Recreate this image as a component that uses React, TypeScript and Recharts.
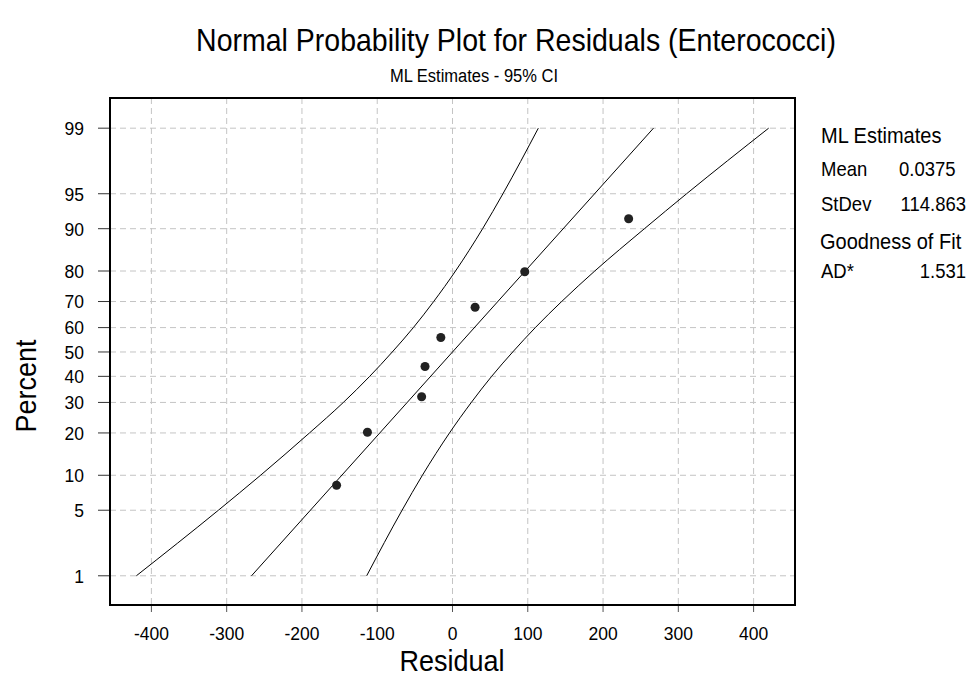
import { ScatterChart, Scatter, XAxis, YAxis, CartesianGrid } from 'recharts';

// tick labels
const residualTicks = [-400, -300, -200, -100, 0, 100, 200, 300, 400];
const percentTicks = [1, 5, 10, 20, 30, 40, 50, 60, 70, 80, 90, 95, 99];

// observed residuals and their plotting percent
const residuals = [-154, -113, -41, -36.5, -15.5, 30, 96, 234];
const pointPercents = [8.3, 20.2, 32.1, 44.0, 56.0, 67.9, 79.8, 91.7];

// fitted line endpoints
const fitResiduals = [-267, 267];
const fitPercents = [1, 99];

// 95% CI curves
const bandPercents = [1, 5, 10, 20, 30, 40, 50, 60, 70, 80, 90, 95, 99];
const upperBandResiduals = [-420, -311, -255, -190, -145, -110, -80, -52, -25, 4, 40, 67, 114];
const lowerBandResiduals = [-114, -67, -40, -4, 25, 52, 80, 110, 145, 189, 255, 311, 420];

// inverse normal cdf (Acklam) -> probability scale for the y axis
function probit(pct: number) {
  const p = pct / 100;
  const a = [-39.6968302866538, 220.946098424521, -275.928510446969, 138.357751867269, -30.6647980661472, 2.50662827745924];
  const b = [-54.4760987982241, 161.585836858041, -155.698979859887, 66.8013118877197, -13.2806815528857];
  const c = [-0.00778489400243029, -0.322396458041136, -2.40075827716184, -2.54973253934373, 4.37466414146497, 2.93816398269878];
  const d = [0.00778469570904146, 0.32246712907004, 2.445134137143, 3.75440866190742];
  const pl = 0.02425;
  if (p < pl) {
    const q = Math.sqrt(-2 * Math.log(p));
    return (((((c[0] * q + c[1]) * q + c[2]) * q + c[3]) * q + c[4]) * q + c[5]) / ((((d[0] * q + d[1]) * q + d[2]) * q + d[3]) * q + 1);
  }
  if (p > 1 - pl) {
    const q = Math.sqrt(-2 * Math.log(1 - p));
    return -(((((c[0] * q + c[1]) * q + c[2]) * q + c[3]) * q + c[4]) * q + c[5]) / ((((d[0] * q + d[1]) * q + d[2]) * q + d[3]) * q + 1);
  }
  const q = p - 0.5;
  const r = q * q;
  return (((((a[0] * r + a[1]) * r + a[2]) * r + a[3]) * r + a[4]) * r + a[5]) * q / (((((b[0] * r + b[1]) * r + b[2]) * r + b[3]) * r + b[4]) * r + 1);
}

const toRows = (xs: number[], ps: number[]) => xs.map((x, i) => ({ x, z: probit(ps[i]), pct: ps[i] }));

const points = toRows(residuals, pointPercents);
const fitLine = toRows(fitResiduals, fitPercents);
const upperBand = toRows(upperBandResiduals, bandPercents);
const lowerBand = toRows(lowerBandResiduals, bandPercents);
const yTicks = percentTicks.map(probit);

const font = '"Liberation Sans", Arial, sans-serif';
const tickFont = 17.5;

const noDot = () => <g />;

// the original glyphs are a little taller than wide
function XTick(props: any) {
  const { x, y, payload } = props;
  return (
    <g transform={`translate(${x},${y}) scale(1,1.1)`}>
      <text x={0} y={0} dy="0.71em" textAnchor="middle" fill="#000" fontSize={tickFont} fontFamily={font}>
        {payload.value}
      </text>
    </g>
  );
}

function YTick(props: any) {
  const { x, y, payload } = props;
  const i = yTicks.findIndex(t => Math.abs(t - payload.value) < 1e-6);
  return (
    <g transform={`translate(${x},${y}) scale(1,1.1)`}>
      <text x={0} y={0} dy="0.355em" textAnchor="end" fill="#000" fontSize={tickFont} fontFamily={font}>
        {i >= 0 ? percentTicks[i] : ''}
      </text>
    </g>
  );
}

const txt = (extra: any) => ({ position: 'absolute' as const, color: '#000', whiteSpace: 'nowrap' as const, lineHeight: 1, ...extra });

export default function App() {
  return (
    <div style={{ position: 'absolute', left: 0, top: 0, width: 971, height: 679, background: '#fff', fontFamily: font }}>
      <div style={txt({ left: 516, top: 40, fontSize: 28.5, transform: 'translate(-50%, -50%) scaleY(1.1)' })}>
        Normal Probability Plot for Residuals (Enterococci)
      </div>
      <div style={txt({ left: 474, top: 76, fontSize: 16.5, transform: 'translate(-50%, -50%) scaleY(1.1)' })}>
        ML Estimates - 95% CI
      </div>

      <ScatterChart width={971} height={679} margin={{ top: 98, right: 176, bottom: 0, left: 0 }}>
        <CartesianGrid stroke="#c4c4c4" strokeDasharray="6 4" />
        <XAxis
          type="number"
          dataKey="x"
          domain={[-455, 455]}
          ticks={residualTicks}
          height={74}
          axisLine={false}
          tickSize={7}
          tickMargin={14}
          tickLine={{ stroke: '#555' }}
          tick={<XTick />}
        />
        <YAxis
          type="number"
          dataKey="z"
          domain={[-2.63, 2.64]}
          ticks={yTicks}
          width={110}
          axisLine={false}
          tickSize={12}
          tickMargin={14}
          tickLine={{ stroke: '#333' }}
          tick={<YTick />}
        />
        <Scatter data={upperBand} line={{ stroke: '#000', strokeWidth: 1 }} lineJointType="monotoneX" shape={noDot} legendType="none" isAnimationActive={false} />
        <Scatter data={lowerBand} line={{ stroke: '#000', strokeWidth: 1 }} lineJointType="monotoneX" shape={noDot} legendType="none" isAnimationActive={false} />
        <Scatter data={fitLine} line={{ stroke: '#000', strokeWidth: 1 }} shape={noDot} legendType="none" isAnimationActive={false} />
        <Scatter data={points} fill="#222" shape="circle" legendType="none" isAnimationActive={false} />
      </ScatterChart>

      <div style={{ position: 'absolute', left: 109, top: 97, width: 687, height: 509, border: '2px solid #000', boxSizing: 'border-box', pointerEvents: 'none' }} />

      <div style={txt({ left: 452, top: 662, fontSize: 27, transform: 'translate(-50%, -50%) scaleY(1.1)' })}>Residual</div>
      <div style={txt({ left: 27, top: 386, fontSize: 27, transform: 'translate(-50%, -50%) rotate(-90deg) scaleY(1.1)' })}>Percent</div>

      <div style={txt({ left: 821, top: 135, fontSize: 20, transform: 'translateY(-50%) scaleY(1.1)' })}>ML Estimates</div>
      <div style={txt({ left: 821, top: 170, fontSize: 18.5, transform: 'translateY(-50%) scaleY(1.1)' })}>Mean</div>
      <div style={txt({ left: 899, top: 170, fontSize: 18.5, transform: 'translateY(-50%) scaleY(1.1)' })}>0.0375</div>
      <div style={txt({ left: 821, top: 205, fontSize: 18.5, transform: 'translateY(-50%) scaleY(1.1)' })}>StDev</div>
      <div style={txt({ right: 5, top: 205, fontSize: 18.5, transform: 'translateY(-50%) scaleY(1.1)' })}>114.863</div>
      <div style={txt({ left: 820, top: 241, fontSize: 20, transform: 'translateY(-50%) scaleY(1.1)' })}>Goodness of Fit</div>
      <div style={txt({ left: 821, top: 272, fontSize: 18.5, transform: 'translateY(-50%) scaleY(1.1)' })}>AD*</div>
      <div style={txt({ right: 5, top: 272, fontSize: 18.5, transform: 'translateY(-50%) scaleY(1.1)' })}>1.531</div>
    </div>
  );
}
